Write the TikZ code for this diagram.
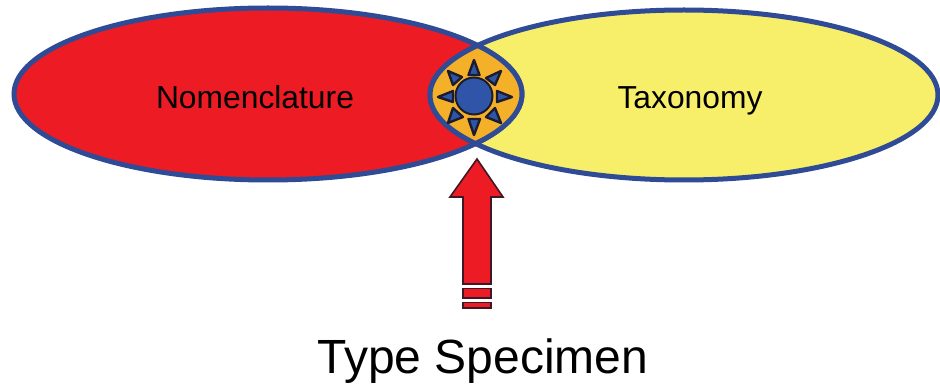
\documentclass[tikz,border=0pt]{standalone}
\usepackage{fontspec}
\setmainfont{Liberation Sans}
\definecolor{rimblue}{HTML}{2F4B96}
\definecolor{redfill}{HTML}{ED1C24}
\definecolor{yellowfill}{HTML}{F7EF6A}
\definecolor{sunorange}{HTML}{F5B02A}
\definecolor{sunblue}{HTML}{2F55A8}
\definecolor{edgedark}{HTML}{1C1C2E}
\tikzset{
  rim/.style={draw=rimblue,line width=5pt},
  ray/.style={draw=edgedark,line width=2.4pt,fill=sunblue,line join=round},
  arrowpart/.style={draw=edgedark!85!red,line width=1.6pt,fill=redfill,line join=miter},
  lbl/.style={font=\fontsize{31.8}{36}\selectfont,inner sep=0pt,text=black,anchor=base},
  biglbl/.style={font=\fontsize{48}{54}\selectfont,inner sep=0pt,text=black,anchor=base}
}
\begin{document}
\begin{tikzpicture}[x=1pt,y=-1pt]
\useasboundingbox (0,0) rectangle (940,385);
\fill[white] (0,0) rectangle (940,385);
% ellipses
\fill[redfill] (268,94) ellipse [x radius=254,y radius=86];
\fill[yellowfill] (684,95) ellipse [x radius=254,y radius=85];
\draw[rim] (268,94) ellipse [x radius=254,y radius=86];
\draw[rim] (684,95) ellipse [x radius=254,y radius=85];
% lens
\begin{scope}
  \clip (268,94) ellipse [x radius=252,y radius=84];
  \fill[sunorange] (684,95) ellipse [x radius=252,y radius=83];
\end{scope}
\begin{scope}
  \clip (268,94) ellipse [x radius=256.5,y radius=88.5];
  \draw[rim] (684,95) ellipse [x radius=254,y radius=85];
\end{scope}
\begin{scope}
  \clip (684,95) ellipse [x radius=256.5,y radius=87.5];
  \draw[rim] (268,94) ellipse [x radius=254,y radius=86];
\end{scope}
% sun
\draw[ray] (474,60) -- (468.5,75) -- (479.5,75) -- cycle;
\draw[ray] (474,135) -- (468.5,119) -- (480,119) -- cycle;
\draw[ray] (438,97) -- (453,91) -- (453,102) -- cycle;
\draw[ray] (512,97) -- (497,91) -- (497,102) -- cycle;
\draw[ray] (448,71) -- (462,77) -- (453,85) -- cycle;
\draw[ray] (501,71) -- (486,78) -- (495,85) -- cycle;
\draw[ray] (448,123) -- (453,108) -- (463,117) -- cycle;
\draw[ray] (501,123) -- (495,108) -- (486,117) -- cycle;
\draw[draw=edgedark,line width=2pt,fill=sunblue] (474,96) circle [radius=18.5];
% arrow
\draw[arrowpart] (477,159) -- (503,197) -- (491,197) -- (491,284) -- (463,284) -- (463,197) -- (450,197) -- cycle;
\draw[arrowpart] (463,288.5) rectangle (491,298);
\draw[arrowpart] (463,302.5) rectangle (491,308);
% labels
\node[lbl] (nom) at (255,109) {Nomenclature};
\node[lbl] (tax) at (690,109) {Taxonomy};
\node[biglbl] (typ) at (483,373) {Type Specimen};
\end{tikzpicture}
\end{document}
